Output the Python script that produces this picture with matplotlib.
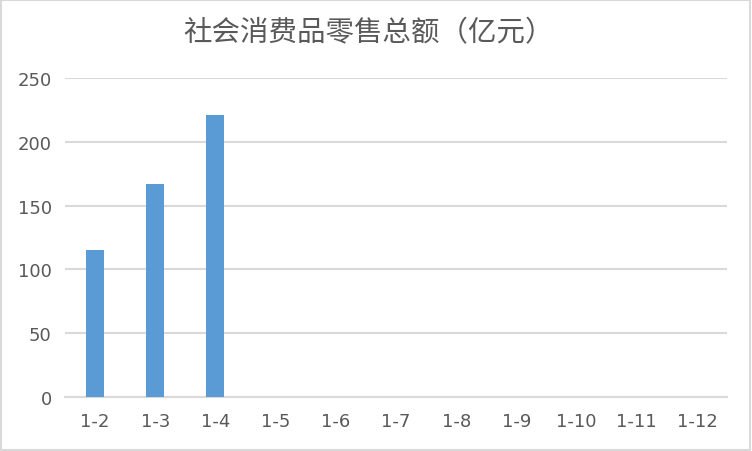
import matplotlib
matplotlib.use("Agg")
import matplotlib.pyplot as plt
from matplotlib.patches import Rectangle

months = ['1-2', '1-3', '1-4', '1-5', '1-6', '1-7', '1-8', '1-9', '1-10', '1-11', '1-12']
sales = [115, 167, 221, 0, 0, 0, 0, 0, 0, 0, 0]
yticks = [0, 50, 100, 150, 200, 250]

plt.rcParams['font.family'] = ['DejaVu Sans', 'Noto Sans CJK SC']
txt = '#595959'
grid = '#d9d9d9'

fig = plt.figure(figsize=(7.52, 4.52), dpi=100)
ax = fig.add_axes([65 / 752, 54 / 452, 662 / 752, 319 / 452])

x = range(len(months))
ax.bar(x, sales, width=0.3, color='#5b9bd5', zorder=3)
ax.set_xlim(-0.5, len(months) - 0.5)
ax.set_ylim(0, 250)
ax.set_yticks(yticks)
ax.set_xticks(list(x))
ax.set_xticklabels(months)
ax.yaxis.grid(True, color=grid, linewidth=1.5, zorder=0)
for s in ['top', 'right', 'left']:
    ax.spines[s].set_visible(False)
ax.spines['bottom'].set_color(grid)
ax.spines['bottom'].set_linewidth(1.5)
ax.tick_params(axis='both', length=0, colors=txt, labelsize=13)
ax.tick_params(axis='y', pad=9.5)
ax.tick_params(axis='x', pad=11)

# title
fig.text(368 / 752, 1 - 33 / 452, '社会消费品零售总额（亿元）', ha='center', va='center',
         fontsize=20.5, color=txt, family=['Noto Sans CJK SC', 'DejaVu Sans'])

# outer frame
fig.patches.append(Rectangle((0.0015, 0.003), 0.996, 0.994, transform=fig.transFigure,
                             fill=False, edgecolor=grid, linewidth=1.5))

fig.savefig('out.png', dpi=100)
